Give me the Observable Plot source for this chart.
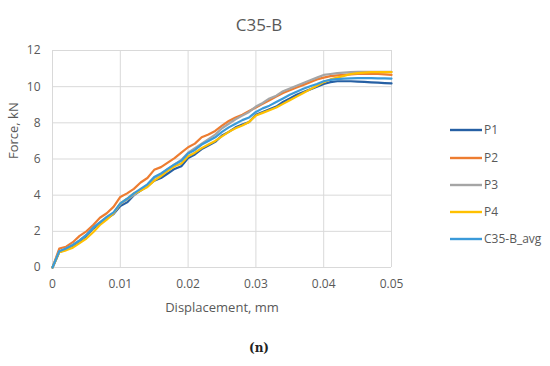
<!DOCTYPE html>
<html><head><meta charset="utf-8">
<script src="https://cdn.jsdelivr.net/npm/d3@7"></script>
<script src="https://cdn.jsdelivr.net/npm/@observablehq/plot@0.6"></script>
<style>body{margin:0;background:#fff;} #c{width:550px;height:366px;}</style>
</head><body><div id="c"></div>
<script>
const displacement = [0,0.001,0.002,0.003,0.004,0.005,0.006,0.007,0.008,0.009,0.010,0.011,0.012,0.013,0.014,0.015,0.016,0.017,0.018,0.019,0.020,0.021,0.022,0.023,0.024,0.025,0.026,0.027,0.028,0.029,0.030,0.031,0.032,0.033,0.034,0.035,0.036,0.037,0.038,0.039,0.040,0.041,0.042,0.043,0.044,0.045,0.046,0.047,0.048,0.049,0.050];
const P1 = [0,0.85,1.0,1.2,1.45,1.75,2.15,2.45,2.7,2.95,3.4,3.6,4.0,4.25,4.5,4.8,4.95,5.2,5.45,5.6,6.05,6.25,6.55,6.75,6.95,7.3,7.5,7.75,7.9,8.05,8.45,8.6,8.75,8.9,9.15,9.35,9.55,9.7,9.85,10.0,10.15,10.25,10.3,10.3,10.3,10.28,10.26,10.24,10.22,10.2,10.18];
const P2 = [0,1.05,1.15,1.4,1.75,2.0,2.35,2.75,3.0,3.35,3.9,4.1,4.35,4.7,4.95,5.4,5.55,5.8,6.05,6.35,6.65,6.85,7.2,7.35,7.55,7.85,8.1,8.3,8.45,8.65,8.85,9.05,9.25,9.45,9.65,9.8,9.95,10.1,10.25,10.4,10.5,10.58,10.62,10.65,10.68,10.7,10.7,10.7,10.7,10.68,10.65];
const P3 = [0,0.9,1.05,1.25,1.5,1.8,2.2,2.5,2.75,3.0,3.5,3.75,4.0,4.3,4.55,4.95,5.15,5.45,5.7,5.95,6.35,6.6,6.85,7.1,7.35,7.7,7.95,8.2,8.4,8.6,8.9,9.1,9.35,9.5,9.75,9.9,10.05,10.2,10.35,10.5,10.65,10.7,10.75,10.78,10.8,10.82,10.82,10.82,10.82,10.82,10.82];
const P4 = [0,0.85,0.95,1.1,1.35,1.6,1.95,2.35,2.65,3.0,3.55,3.8,4.1,4.25,4.45,4.8,5.05,5.35,5.6,5.75,6.15,6.35,6.6,6.8,7.0,7.25,7.5,7.7,7.85,8.05,8.4,8.55,8.7,8.85,9.05,9.25,9.45,9.65,9.85,10.05,10.25,10.4,10.5,10.6,10.7,10.75,10.78,10.8,10.8,10.8,10.8];
const AVG = [0,0.9,1.05,1.25,1.5,1.8,2.2,2.5,2.8,3.05,3.55,3.8,4.1,4.35,4.6,5.0,5.2,5.45,5.7,5.9,6.3,6.5,6.8,7.0,7.2,7.5,7.75,7.95,8.15,8.3,8.6,8.8,8.95,9.15,9.35,9.55,9.72,9.88,10.02,10.15,10.3,10.38,10.42,10.45,10.46,10.47,10.47,10.47,10.46,10.46,10.45];
const seriesNames = ["P1","P2","P3","P4","C35-B_avg"];
const seriesColors = ["#2660A4","#ED7D31","#A5A5A5","#FFC000","#3A9AD9"];
const xTicks = [0,0.01,0.02,0.03,0.04,0.05];
const xTickLabels = ["0","0.01","0.02","0.03","0.04","0.05"];
const yTicks = [0,2,4,6,8,10,12];

const seriesValues = [P1,P2,P3,P4,AVG];
const data = [];
seriesNames.forEach((s,i)=>displacement.forEach((d,j)=>data.push({s, d, f: seriesValues[i][j]})));

const font = "'Open Sans', sans-serif";
const ml = 52, mr = 159, mt = 50, mb = 99, W = 550, H = 366;
const chart = Plot.plot({
  width: W, height: H,
  marginLeft: ml, marginRight: mr, marginTop: mt, marginBottom: mb,
  style: {fontFamily: font, fontSize: "12px", color: "#595959", background: "#fff"},
  x: {domain: [0,0.05], ticks: xTicks, tickFormat: (d,i)=>xTickLabels[i], label: null},
  y: {domain: [0,12], ticks: yTicks, label: null},
  color: {domain: seriesNames, range: seriesColors},
  marks: [
    Plot.gridX(xTicks, {stroke: "#d9d9d9", strokeOpacity: 1, strokeWidth: 1}),
    Plot.gridY(yTicks, {stroke: "#d9d9d9", strokeOpacity: 1, strokeWidth: 1}),
    Plot.axisX(xTicks, {tickSize: 0, tickPadding: 12, fill: "#595959", fontSize: 12, tickFormat: (d,i)=>xTickLabels[i], label: null}),
    Plot.axisY(yTicks, {tickSize: 0, tickPadding: 12, fill: "#595959", fontSize: 12, label: null}),
    Plot.line(data, {x: "d", y: "f", z: "s", stroke: "s", strokeWidth: 2.2, curve: "linear"}),
    Plot.text(["C35-B"], {frameAnchor: "top", dx: 37, dy: -32, fontSize: 17, fill: "#595959"}),
    Plot.text(["Force, kN"], {frameAnchor: "left", dx: -39, rotate: -90, fontSize: 13, fill: "#595959"}),
    Plot.text(["Displacement, mm"], {frameAnchor: "bottom", dy: 44, fontSize: 13, fill: "#595959"}),
    Plot.text(["(n)"], {frameAnchor: "bottom", dx: 37, dy: 84, fontSize: 12, fontWeight: "bold", fontFamily: "'DejaVu Serif', serif", fill: "#222"})
  ]
});
document.getElementById("c").appendChild(chart);

// legend
const svg = d3.select(chart);
const lg = svg.append("g").attr("font-family", font).attr("font-size", 12).attr("text-anchor", "start");
const rowY = [130,158,185,212,239];
seriesNames.forEach((s,i)=>{
  lg.append("line").attr("x1",450).attr("x2",482).attr("y1",rowY[i]).attr("y2",rowY[i])
    .attr("stroke",seriesColors[i]).attr("stroke-width",2.4);
  lg.append("text").attr("x",484).attr("y",rowY[i]).attr("dy","0.35em").attr("text-anchor","start").attr("fill","#595959").text(s);
});
</script></body></html>
